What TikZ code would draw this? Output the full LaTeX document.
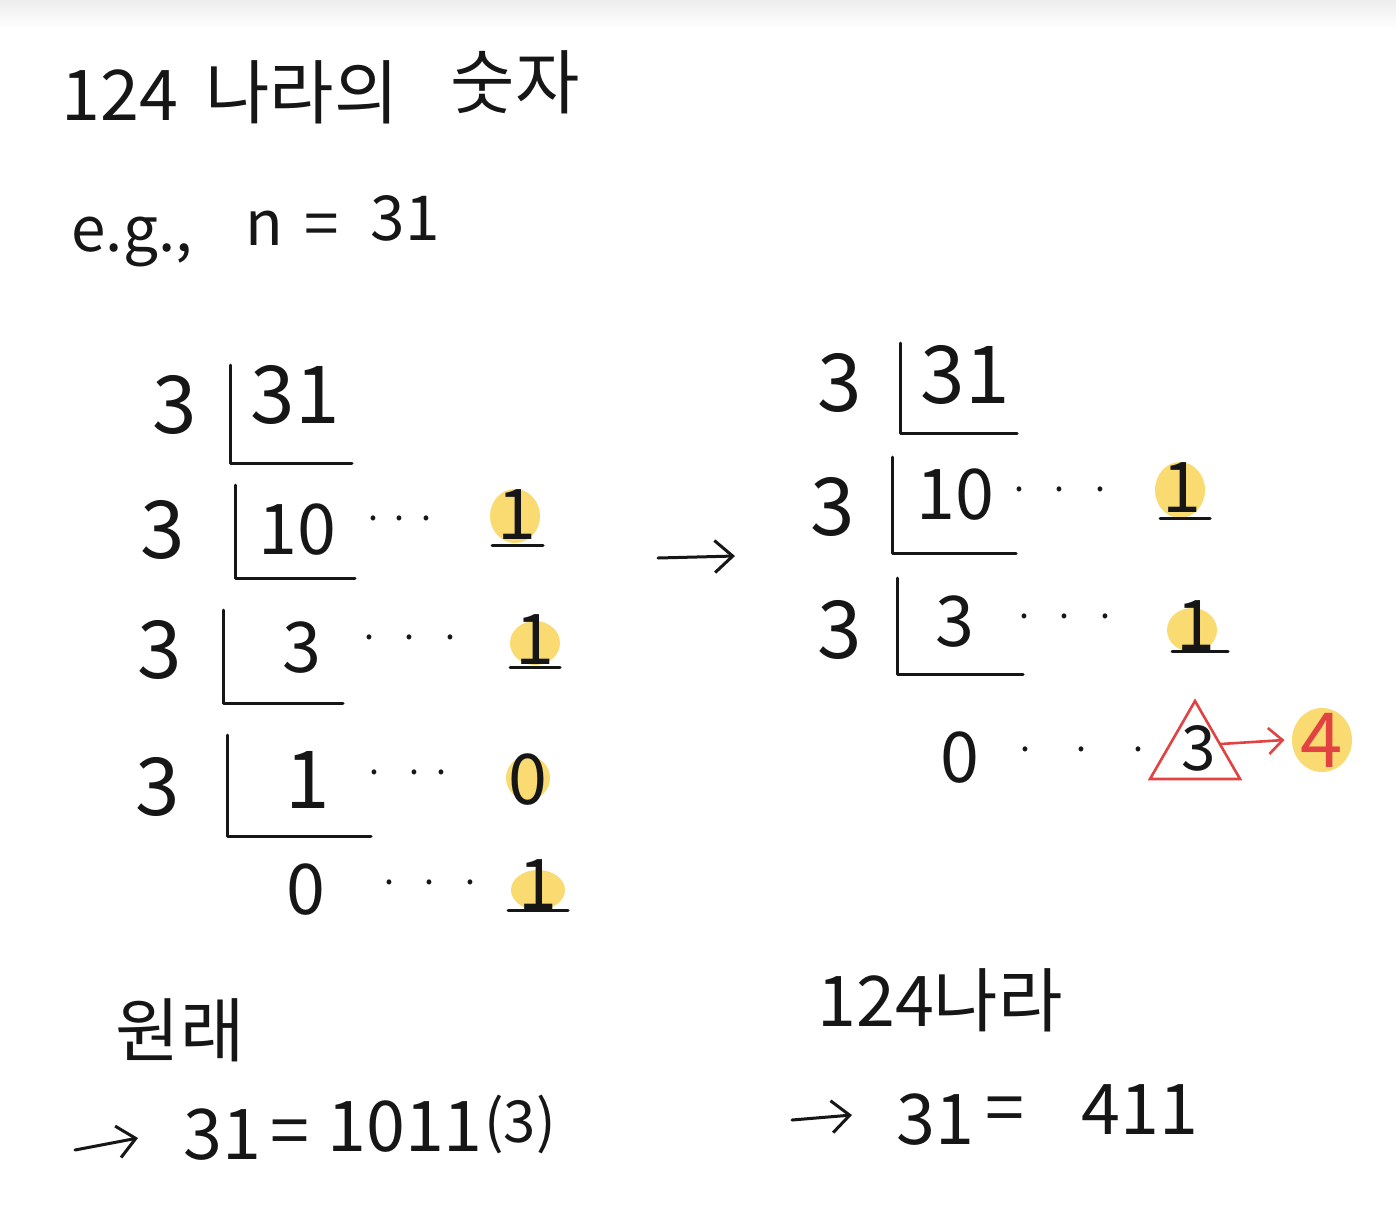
\documentclass[tikz,border=0pt]{standalone}
\usepackage{fontspec}
\setmainfont{Noto Sans CJK KR}
\usetikzlibrary{arrows.meta,shapes.geometric}
\definecolor{ink}{RGB}{22,22,22}
\definecolor{hl}{RGB}{247,208,66}
\definecolor{redink}{RGB}{226,66,66}
\tikzset{
  txt/.style={inner sep=0pt, text=ink},
  big/.style={txt, font=\fontsize{40}{44}\selectfont},
  mid/.style={txt, font=\fontsize{35}{40}\selectfont},
  sml/.style={txt, font=\fontsize{31}{36}\selectfont},
  tiny/.style={txt, font=\fontsize{29}{32}\selectfont},
  dotrow/.style={txt, font=\fontsize{18}{20}\selectfont},
  pen/.style={draw=ink, line width=1.5pt, line cap=round, line join=round},
  hlblob/.style={fill=hl, fill opacity=0.75, draw=none},
  harrow/.style={pen, -{Straight Barb[length=9pt,width=16pt,line width=1.5pt]}},
  rarrow/.style={draw=redink, line width=1.3pt, line cap=round, -{Straight Barb[length=7pt,width=13pt,line width=1.3pt]}},
}
\begin{document}
\begin{tikzpicture}[x=0.5pt,y=-0.5pt]
\fill[white] (0,0) rectangle (1396,1216);
\shade[top color=black!7, bottom color=white] (0,0) rectangle (1396,28);
\useasboundingbox (0,0) rectangle (1396,1216);

% ---------- title ----------
\node[mid] (t1) at (120,95) {124};
\node[mid] (t2) at (302,92) {나라의};
\node[mid] (t3) at (515,82) {숫자};

\node[sml] (eg) at (132,242) {e.g.,};
\node[sml] (en) at (264,228) {n};
\node[sml] (eq) at (322,230) {=};
\node[sml] (e31) at (405,218) {31};

% ---------- highlights ----------
\fill[hlblob] (515,516) ellipse [x radius=12.5pt, y radius=13.5pt];
\fill[hlblob] (535,643) ellipse [x radius=12.5pt, y radius=11pt];
\fill[hlblob] (528,778) ellipse [x radius=11pt, y radius=11pt];
\fill[hlblob] (538,890) ellipse [x radius=13.5pt, y radius=10pt];
\fill[hlblob] (1180,490) ellipse [x radius=12.5pt, y radius=14pt];
\fill[hlblob] (1192,630) ellipse [x radius=12.5pt, y radius=11pt];
\fill[hlblob] (1322,740) ellipse [x radius=15pt, y radius=16pt];

% ---------- left division ----------
\node[big] (l3a) at (175,405) {3};
\node[big] (l31) at (295,395) {31};
\draw[pen] (230,365) -- (230,463) -- (352,463);

\node[big] (l3b) at (163,530) {3};
\node[mid] (l10) at (297,530) {10};
\draw[pen] (235,485) -- (235,578) -- (355,578);
\node[dotrow] (ld1) at (400,524) {·\,·\,·};
\node[mid] (lr1) at (517,515) {1};
\draw[pen] (492,545) -- (543,545);

\node[big] (l3c) at (160,650) {3};
\node[mid] (lq3) at (302,648) {3};
\draw[pen] (223,610) -- (223,703) -- (343,703);
\node[dotrow] (ld2) at (410,643) {·\;\;·\;\;·};
\node[mid] (lr2) at (535,640) {1};
\draw[pen] (510,667) -- (560,667);

\node[big] (l3d) at (158,787) {3};
\node[big] (lq1) at (308,780) {1};
\draw[pen] (227,735) -- (227,836) -- (371,836);
\node[dotrow] (ld3) at (408,778) {·\;\;·\,·};
\node[mid] (lr3) at (528,780) {0};

\node[mid] (lq0) at (306,890) {0};
\node[dotrow] (ld4) at (430,888) {·\;\;·\;\;·};
\node[mid] (lr4) at (538,885) {1};
\draw[pen] (508,910) -- (568,910);

% ---------- middle arrow ----------
\coordinate (ma) at (658,558);
\coordinate (mb) at (735,556);
\draw[harrow] (ma) -- (mb);

% ---------- right division ----------
\node[big] (r3a) at (840,383) {3};
\node[big] (r31) at (965,375) {31};
\draw[pen] (900,343) -- (900,433) -- (1017,433);

\node[big] (r3b) at (833,507) {3};
\node[mid] (r10) at (955,495) {10};
\draw[pen] (892,457) -- (892,553) -- (1016,553);
\node[dotrow] (rd1) at (1060,495) {·\;\;·\;\;·};
\node[mid] (rr1) at (1182,488) {1};
\draw[pen] (1160,518) -- (1210,518);

\node[big] (r3c) at (840,630) {3};
\node[mid] (rq3) at (955,622) {3};
\draw[pen] (897,578) -- (897,674) -- (1023,674);
\node[dotrow] (rd2) at (1065,622) {·\;\;·\;\;·};
\node[mid] (rr2) at (1196,626) {1};
\draw[pen] (1172,651) -- (1228,651);

\node[mid] (rq0) at (960,758) {0};
\node[dotrow] (rd3) at (1082,755) {·\quad·\quad·};
\node[regular polygon, regular polygon sides=3, minimum size=52pt, inner sep=0pt,
      draw=redink, line width=1.3pt] (tri) at (1195,753) {};
\node[sml] (tri3) at (1199,748) {3};
\node[txt, text=redink, font=\fontsize{38}{40}\selectfont] (r4) at (1322,740) {4};
\draw[rarrow] (tri3.east) ++(4,-4) -- ([xshift=-8pt]r4.west);

% ---------- bottom left ----------
\node[mid] (b1) at (180,1030) {원래};
\coordinate (ba) at (75,1150);
\coordinate (bb) at (138,1138);
\draw[harrow] (ba) -- (bb);
\node[mid] (b31) at (222,1135) {31};
\node[mid] (beq) at (290,1138) {=};
\node[mid] (bv) at (405,1127) {1011};
\node[tiny] (bs) at (520,1124) {(3)};

% ---------- bottom right ----------
\node[mid] (c1) at (940,1000) {124나라};
\coordinate (ca) at (792,1120);
\coordinate (cb) at (852,1115);
\draw[harrow] (ca) -- (cb);
\node[mid] (c31) at (935,1120) {31};
\node[mid] (ceq) at (1005,1115) {=};
\node[mid] (cv) at (1140,1110) {411};
\end{tikzpicture}
\end{document}
